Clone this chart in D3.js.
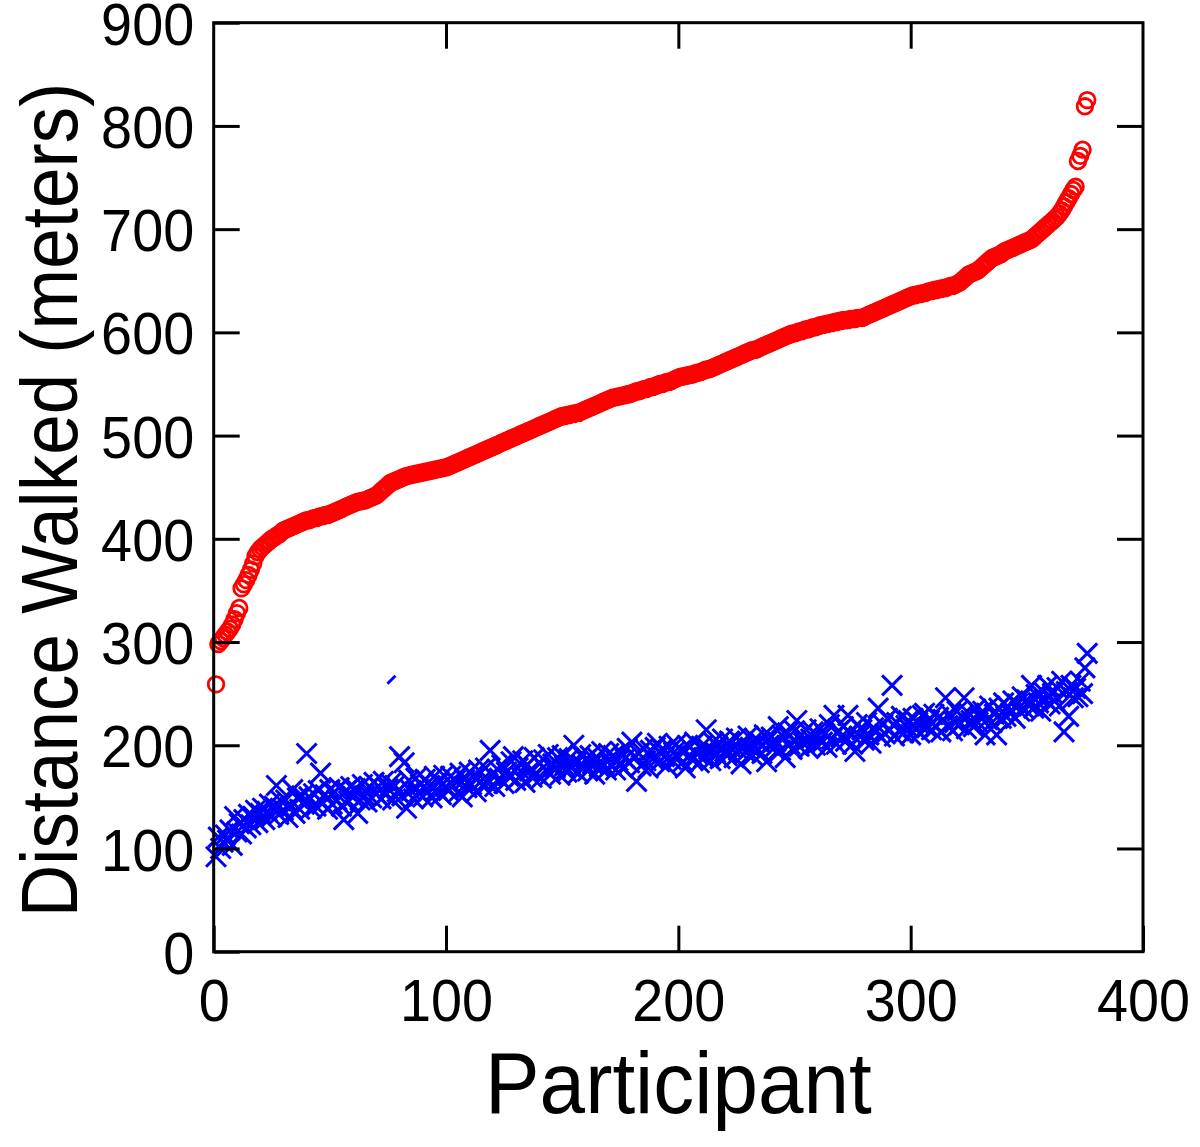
<!DOCTYPE html>
<html>
<head>
<meta charset="utf-8">
<script src="https://cdn.jsdelivr.net/npm/d3@7"></script>
<style>
  body { margin: 0; background: #fff; }
  svg { display: block; }
</style>
</head>
<body>
<svg id="chart" width="1200" height="1147"></svg>
<script>
// sorted distance per participant (red circles), index = participant 1..376
var redValues = [
  259,298,301,304,307,310,313,317,322,328,
  333,352,356,360,365,370,376,383,387,390,
  392,394,396,398,400,401,403,404,406,408,
  409,410,411,412,413,414,415,416,417,418,
  418,419,420,420,421,422,422,423,423,424,
  425,426,427,428,429,430,431,432,433,434,
  435,436,436,437,437,438,439,440,441,442,
  444,446,448,450,452,454,455,456,457,458,
  459,460,461,461,462,462,463,463,464,464,
  465,465,466,466,467,467,468,468,469,469,
  470,471,472,473,474,475,476,477,478,479,
  480,481,482,483,484,485,486,487,488,489,
  490,491,492,493,494,495,496,497,498,499,
  500,501,502,503,504,505,506,507,508,509,
  510,511,512,513,514,515,516,517,518,519,
  519,520,520,521,521,522,522,523,524,525,
  526,527,528,529,530,531,532,533,534,535,
  536,537,537,538,538,539,539,540,540,541,
  542,543,543,544,545,545,546,547,547,548,
  549,550,550,551,552,552,553,554,555,556,
  557,557,558,558,559,559,560,561,561,562,
  563,564,564,565,566,567,568,569,570,571,
  572,573,574,575,576,577,578,579,580,581,
  582,583,583,584,585,586,587,588,589,590,
  591,592,593,594,595,596,597,598,599,599,
  600,601,601,602,603,603,604,605,605,606,
  607,607,608,608,609,609,610,610,611,611,
  612,612,612,613,613,613,614,614,614,615,
  616,617,618,619,620,621,622,623,624,625,
  626,627,628,629,630,631,632,633,634,635,
  636,636,637,637,638,638,639,640,640,641,
  641,642,642,643,643,644,645,645,646,647,
  648,650,652,654,656,657,658,659,660,662,
  664,666,668,670,672,673,674,675,676,678,
  679,680,681,682,683,684,685,686,687,688,
  689,690,692,694,696,698,700,702,704,706,
  708,710,712,715,718,722,726,730,734,738,
  741,766,771,777,819,825
];

// blue crosses, same participants
var blueValues = [
  92,111,100,106,113,108,118,103,131,116,
  124,114,128,120,133,123,131,137,125,134,
  139,128,136,143,131,141,161,133,146,137,
  147,130,140,157,134,149,138,151,143,192,
  150,139,153,141,156,173,144,152,138,157,
  143,155,147,159,141,128,156,146,160,150,
  158,134,147,162,151,145,160,149,164,153,
  160,148,165,152,158,163,147,161,155,189,
  151,183,139,166,156,148,168,154,162,150,
  167,155,161,149,170,157,164,152,171,160,
  156,170,161,166,154,173,150,167,159,174,
  162,170,155,176,165,160,178,163,195,171,
  160,177,168,181,163,174,170,184,189,166,
  178,170,185,164,181,175,169,188,172,183,
  168,186,176,191,172,182,178,188,171,190,
  180,174,187,178,200,183,173,191,180,186,
  175,190,182,172,188,179,194,181,176,192,
  181,190,176,185,194,178,187,197,183,203,
  189,165,192,180,197,185,178,195,187,198,
  202,184,196,189,180,199,186,193,201,188,
  195,184,178,200,190,186,203,192,183,199,
  188,215,196,185,203,193,199,187,206,194,
  190,204,197,188,207,195,182,201,193,209,
  198,190,206,196,203,192,210,184,200,208,
  197,204,218,195,209,188,212,201,196,214,
  224,199,210,202,215,197,206,213,200,209,
  216,203,211,198,220,206,229,201,214,208,
  218,204,229,212,201,194,220,209,215,205,
  222,210,202,217,213,236,208,220,211,226,
  215,258,209,222,214,228,212,219,224,210,
  226,216,222,212,229,231,217,224,215,230,
  218,227,213,225,246,219,230,214,222,233,
  220,228,246,216,231,224,218,235,222,227,
  233,210,225,238,222,230,210,236,226,241,
  228,237,231,243,226,240,233,247,235,244,
  238,258,236,249,241,233,252,244,258,240,
  250,243,256,238,262,213,252,228,258,246,
  255,247,262,250,275,289
];

// the lone stroke fragment near participant 76
var strayX = [76.5];
var strayY = [263.5];

var xTicks = [0, 100, 200, 300, 400];
var yTicks = [0, 100, 200, 300, 400, 500, 600, 700, 800, 900];
var xTitle = "Participant";
var yTitle = "Distance Walked (meters)";

var plotLeft = 213.7, plotRight = 1143, plotTop = 22.7, plotBottom = 951.7;
var tickLen = 26;
var fontFam = "'Liberation Sans', Arial, Helvetica, sans-serif";
var squeeze = 0.93;

var svg = d3.select("#chart");

var x = d3.scaleLinear().domain([0, 400]).range([plotLeft, plotRight]);
var y = d3.scaleLinear().domain([0, 900]).range([plotBottom, plotTop]);

// red circles
svg.append("g")
  .selectAll("circle")
  .data(redValues)
  .enter()
  .append("circle")
  .attr("cx", function(d, i) { return x(i + 1); })
  .attr("cy", function(d) { return y(d); })
  .attr("r", 7.8)
  .attr("fill", "none")
  .attr("stroke", "#ff0000")
  .attr("stroke-width", 2.8);

// blue crosses
var s = 10;
svg.append("g")
  .selectAll("path")
  .data(blueValues)
  .enter()
  .append("path")
  .attr("transform", function(d, i) { return "translate(" + x(i + 1) + "," + y(d) + ")"; })
  .attr("d", "M" + (-s) + "," + (-s) + "L" + s + "," + s + "M" + (-s) + "," + s + "L" + s + "," + (-s))
  .attr("fill", "none")
  .attr("stroke", "#0000ff")
  .attr("stroke-width", 3);

svg.append("g")
  .selectAll("path")
  .data(strayX)
  .enter()
  .append("path")
  .attr("transform", function(d, i) { return "translate(" + x(d) + "," + y(strayY[i]) + ")"; })
  .attr("d", "M-4,4L4,-4")
  .attr("stroke", "#0000ff")
  .attr("stroke-width", 3);

// axes with inward ticks
function styleAxis(g) {
  g.selectAll("path.domain").remove();
  g.selectAll("line").attr("stroke", "#000").attr("stroke-width", 3);
  g.selectAll("text")
    .attr("fill", "#000")
    .style("font-family", fontFam)
    .style("font-size", "60px");
}

var yAxis = svg.append("g")
  .attr("transform", "translate(" + plotLeft + ",0)")
  .call(d3.axisLeft(y).tickValues(yTicks).tickSizeInner(-tickLen).tickSizeOuter(0).tickPadding(21))
  .call(styleAxis);
yAxis.selectAll("text").attr("dy", "0.36em").attr("transform", "scale(" + squeeze + ",1)");

var xAxis = svg.append("g")
  .attr("transform", "translate(0," + plotBottom + ")")
  .call(d3.axisBottom(x).tickValues(xTicks).tickSizeInner(-tickLen).tickSizeOuter(0).tickPadding(27))
  .call(styleAxis);
xAxis.selectAll("text").attr("dy", "0.71em").attr("transform", "scale(" + squeeze + ",1)");

svg.append("g")
  .attr("transform", "translate(0," + plotTop + ")")
  .call(d3.axisTop(x).tickValues(xTicks.slice(1, -1)).tickSizeInner(-tickLen).tickSizeOuter(0).tickFormat(""))
  .call(styleAxis);

svg.append("g")
  .attr("transform", "translate(" + plotRight + ",0)")
  .call(d3.axisRight(y).tickValues(yTicks.slice(1, -1)).tickSizeInner(-tickLen).tickSizeOuter(0).tickFormat(""))
  .call(styleAxis);

// frame
svg.append("rect")
  .attr("x", plotLeft)
  .attr("y", plotTop)
  .attr("width", plotRight - plotLeft)
  .attr("height", plotBottom - plotTop)
  .attr("fill", "none")
  .attr("stroke", "#000")
  .attr("stroke-width", 3);

// titles
svg.append("text")
  .attr("transform", "translate(" + ((plotLeft + plotRight) / 2) + ",1113) scale(" + squeeze + ",1)")
  .attr("text-anchor", "middle")
  .style("font-family", fontFam)
  .style("font-size", "88px")
  .text(xTitle);

svg.append("text")
  .attr("transform", "translate(77,500) rotate(-90) scale(0.91,1)")
  .attr("text-anchor", "middle")
  .style("font-family", fontFam)
  .style("font-size", "80px")
  .text(yTitle);
</script>
</body>
</html>
